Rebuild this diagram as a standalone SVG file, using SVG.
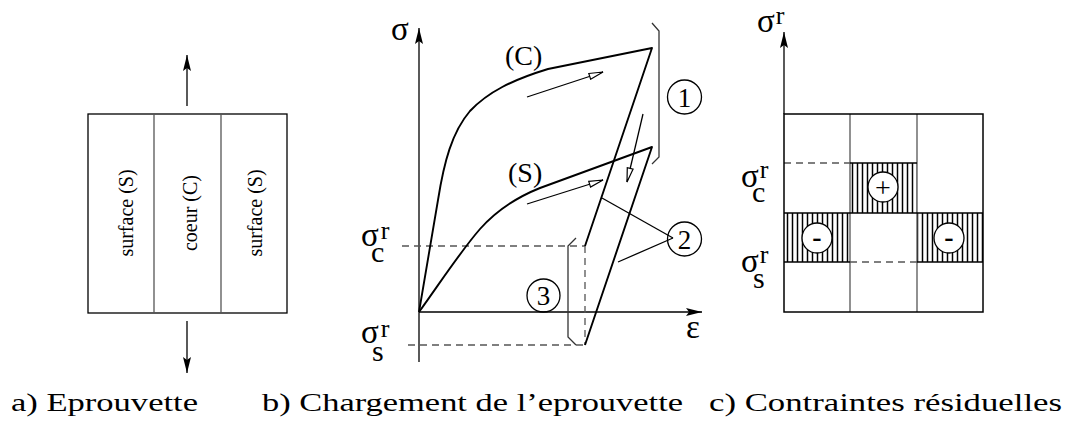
<svg xmlns="http://www.w3.org/2000/svg" width="1065" height="423" viewBox="0 0 1065 423">
<style>
.ln{fill:none;stroke:#000;stroke-width:1.3}
.cv{fill:none;stroke:#000;stroke-width:1.9;stroke-linejoin:round}
.gr{fill:none;stroke:#555;stroke-width:1.3}
.br{fill:none;stroke:#333;stroke-width:1.3}
.da{fill:none;stroke:#555;stroke-width:1.3;stroke-dasharray:7 5}
.t{font-family:"Liberation Serif","Times New Roman",serif;fill:#000}
.m{font-family:"Liberation Serif","Times New Roman",serif;font-size:33px;fill:#000}
.sup{font-size:26px}
.sub{font-size:30px}
.cap{font-family:"Liberation Serif","Times New Roman",serif;font-size:25px;fill:#000}
.circ{fill:#fff;stroke:#000;stroke-width:1.3}
.num{font-family:"Liberation Serif","Times New Roman",serif;font-size:27px;fill:#000;text-anchor:middle}
</style>
<defs>
<marker id="ah" viewBox="0 0 16 8" markerWidth="16" markerHeight="8" refX="16" refY="4" orient="auto" markerUnits="userSpaceOnUse">
<path d="M0,0 L16,4 L0,8 L3,4 z" fill="#000"/>
</marker>
<marker id="oh" viewBox="0 0 16 8" markerWidth="16" markerHeight="8" refX="15" refY="4" orient="auto" markerUnits="userSpaceOnUse">
<path d="M1,1 L15,4 L1,7 z" fill="#fff" stroke="#000" stroke-width="1.2"/>
</marker>
<pattern id="hatch" patternUnits="userSpaceOnUse" width="5" height="10">
<rect width="5" height="10" fill="#fff"/>
<line x1="2.5" y1="0" x2="2.5" y2="10" stroke="#000" stroke-width="1.5"/>
</pattern>
</defs>

<!-- Panel a: specimen -->
<g id="specimen">
<rect x="88" y="114" width="199" height="199" class="ln"/>
<line x1="154" y1="114" x2="154" y2="313" class="gr"/>
<line x1="221" y1="114" x2="221" y2="313" class="gr"/>
</g>
<g id="surface-left"><text class="t" font-size="20" text-anchor="middle" x="133" y="213" transform="rotate(-90 133 213)">surface (S)</text></g>
<g id="core"><text class="t" font-size="20" text-anchor="middle" x="197" y="213" transform="rotate(-90 197 213)">coeur (C)</text></g>
<g id="surface-right"><text class="t" font-size="20" text-anchor="middle" x="262" y="213" transform="rotate(-90 262 213)">surface (S)</text></g>
<g id="load-arrows">
<line x1="187" y1="106" x2="187" y2="55" class="ln" marker-end="url(#ah)"/>
<line x1="187" y1="321" x2="187" y2="373" class="ln" marker-end="url(#ah)"/>
</g>

<!-- Panel b: loading -->
<g id="axes-b">
<line x1="419" y1="362" x2="419" y2="28" class="ln" marker-end="url(#ah)"/>
<line x1="419" y1="312" x2="702" y2="312" class="ln" marker-end="url(#ah)"/>
<text class="m" x="391" y="40">σ</text>
<text class="m" font-size="31" x="686" y="338">ε</text>
</g>
<g id="levels-b">
<line x1="402" y1="246" x2="585" y2="246" class="da"/>
<line x1="408" y1="345" x2="585" y2="345" class="da"/>
<line x1="585" y1="246" x2="585" y2="345" class="da"/>
<text class="m" x="361" y="246">σ<tspan class="sup" dx="2" dy="-7">r</tspan><tspan class="sub" x="371" dy="23">c</tspan></text>
<text class="m" x="361" y="343">σ<tspan class="sup" dx="2" dy="-6">r</tspan><tspan class="sub" x="372" dy="24">s</tspan></text>
</g>
<g id="curve-C">
<path class="cv" d="M419,312 L438,200 C444,162 452,132 470,111 C488,92 512,80 548,69 L652,48 L585,246"/>
<text class="t" font-size="28" x="505" y="65">(C)</text>
</g>
<g id="curve-S">
<path class="cv" d="M419,312 C440,283 460,252 480,229 C497,210 515,198 540,188 L652,147 L585,345"/>
<text class="t" font-size="28" x="508" y="182">(S)</text>
</g>
<g id="connectors">
<line x1="527" y1="97" x2="603" y2="72" class="ln" marker-end="url(#oh)"/>
<line x1="527" y1="204" x2="603" y2="180" class="ln" marker-end="url(#oh)"/>
<line x1="643" y1="114" x2="627" y2="182" class="ln" marker-end="url(#oh)"/>
<line x1="602" y1="198" x2="673" y2="238" class="ln"/>
<line x1="618" y1="262" x2="673" y2="238" class="ln"/>
</g>
<g id="label-1">
<path class="br" d="M652,23 L659,31 L659,157 L652,164"/>
<circle cx="684.5" cy="97" r="17" class="circ"/>
<text class="num" x="684.5" y="106.5">1</text>
</g>
<g id="label-2">
<circle cx="684.5" cy="239" r="17" fill="none" stroke="#000" stroke-width="1.3"/>
<text class="num" x="684.5" y="248.5">2</text>
</g>
<g id="label-3">
<path class="br" d="M576,238 L568,246 L568,337 L576,345"/>
<circle cx="543.5" cy="295.5" r="16.5" fill="none" stroke="#000" stroke-width="1.3"/>
<text class="num" x="543.5" y="305">3</text>
</g>

<!-- Panel c: residual stresses -->
<g id="axis-c">
<line x1="784" y1="114" x2="784" y2="32" class="ln" marker-end="url(#ah)"/>
<text class="m" x="757" y="32">σ<tspan class="sup" dx="1" dy="-8">r</tspan></text>
</g>
<g id="hatched-cells">
<rect x="850" y="163" width="67" height="50" fill="url(#hatch)"/>
<rect x="784" y="213" width="66" height="49" fill="url(#hatch)"/>
<rect x="917" y="213" width="66" height="49" fill="url(#hatch)"/>
</g>
<g id="grid-c">
<line x1="850" y1="114" x2="850" y2="312" class="gr"/>
<line x1="917" y1="114" x2="917" y2="312" class="gr"/>
<line x1="850" y1="163" x2="917" y2="163" class="ln"/>
<line x1="784" y1="213" x2="983" y2="213" class="ln"/>
<line x1="784" y1="262" x2="850" y2="262" class="ln"/>
<line x1="917" y1="262" x2="983" y2="262" class="ln"/>
<line x1="784" y1="163" x2="850" y2="163" class="da"/>
<line x1="850" y1="262" x2="917" y2="262" class="da"/>
<rect x="784" y="114" width="199" height="198" fill="none" stroke="#000" stroke-width="1.5"/>
</g>
<g id="levels-c">
<text class="m" x="741" y="187">σ<tspan class="sup" dx="1" dy="-9">r</tspan><tspan class="sub" x="752" dy="24">c</tspan></text>
<text class="m" x="741" y="272">σ<tspan class="sup" dx="1" dy="-9">r</tspan><tspan class="sub" x="753" dy="25">s</tspan></text>
</g>
<g id="core-plus">
<circle cx="883" cy="187" r="15" class="circ" stroke-width="1.5"/>
<text class="t" font-size="28" text-anchor="middle" x="883" y="197">+</text>
</g>
<g id="surface-minus-left">
<circle cx="817" cy="238" r="15" class="circ" stroke-width="1.5"/>
<text class="t" font-size="28" font-weight="bold" text-anchor="middle" x="817" y="246">-</text>
</g>
<g id="surface-minus-right">
<circle cx="949" cy="238" r="15" class="circ" stroke-width="1.5"/>
<text class="t" font-size="28" font-weight="bold" text-anchor="middle" x="949" y="246">-</text>
</g>

<!-- Captions -->
<g id="captions">
<text class="cap" x="11" y="411" textLength="187" lengthAdjust="spacingAndGlyphs">a) Eprouvette</text>
<text class="cap" x="262" y="411" textLength="421" lengthAdjust="spacingAndGlyphs">b) Chargement de l’eprouvette</text>
<text class="cap" x="709" y="411" textLength="353" lengthAdjust="spacingAndGlyphs">c) Contraintes résiduelles</text>
</g>
</svg>
